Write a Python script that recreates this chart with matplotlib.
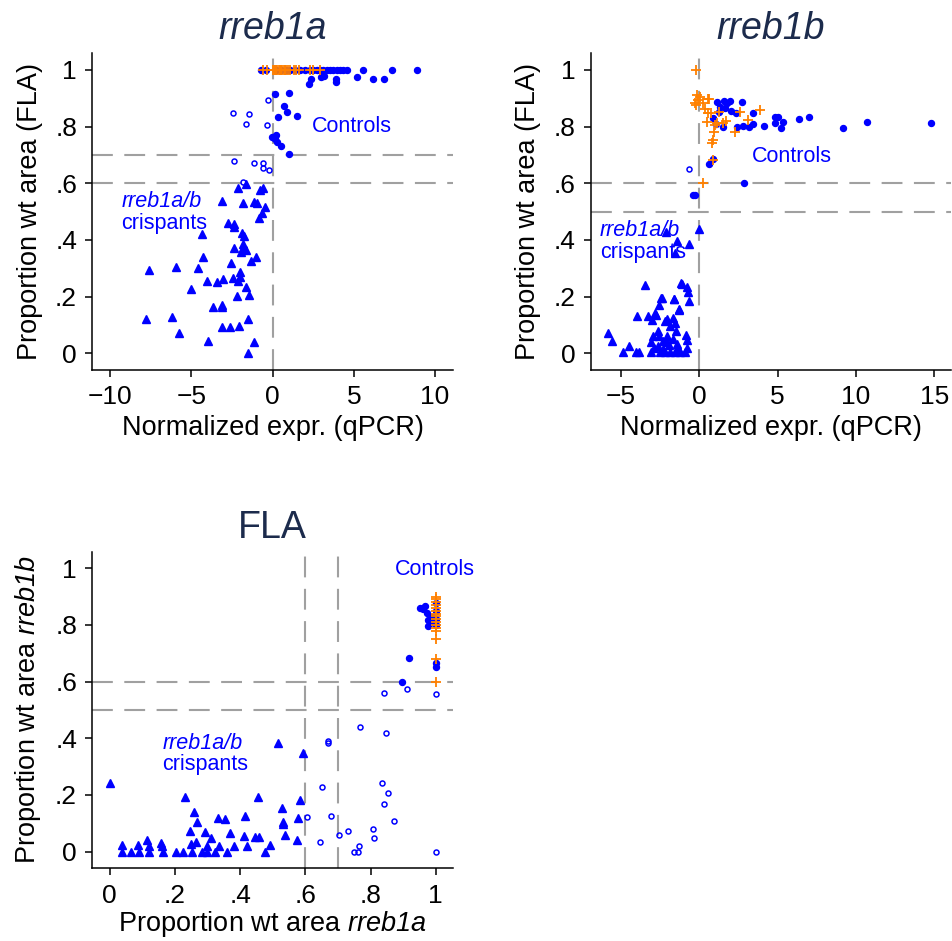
import matplotlib
matplotlib.use("Agg")
import matplotlib.pyplot as plt

plt.rcParams['font.family'] = ['Liberation Sans', 'DejaVu Sans']
# gene names inside $...$ come out fully italic (digits included)
plt.rcParams['mathtext.fontset'] = 'custom'
plt.rcParams['mathtext.rm'] = 'Liberation Sans:italic'
plt.rcParams['mathtext.it'] = 'Liberation Sans:italic'

# ---- data ----
# panel 1: rreb1a qPCR vs FLA
a_ctrl_x = [8.89, 7.33, 5.59, 4.56, 4.36, 4.15, 3.95, 3.75, 3.54, 3.33, 3.13, 2.92, 2.72, 2.5,
            2.31, 2.0, 1.7, 1.4, 1.1, 0.8, 0.5, 0.2, -0.4, -0.7,
            6.86, 6.2, 5.22, 3.89, 3.89, 2.98, 3.17, 2.35, 2.27, 0.15, 1.02, 0.73, 0.87,
            1.49, 0.32, -0.01, 0.2, 0.13, 0.26, 0.5, 1.02]
a_ctrl_y = [1.0] * 24 + [0.968, 0.968, 0.976, 0.968, 0.959, 0.976, 0.98, 0.968, 0.949, 0.914,
                         0.918, 0.874, 0.852, 0.839, 0.834, 0.765, 0.77, 0.755, 0.747, 0.732, 0.703]
a_mid_x = [-0.26, -2.45, -1.45, -1.65, -0.32, -2.37, -1.16, -0.56, -0.58, -0.22, -1.8]
a_mid_y = [0.894, 0.849, 0.843, 0.81, 0.805, 0.679, 0.672, 0.672, 0.653, 0.646, 0.605]
a_crisp_x = [-2.1, -1.65, -0.6, -0.76, -3.09, -1.8, -1.14, -0.94, -0.46, -0.63, -0.83, -2.76,
             -2.35, -2.4, -4.32, -1.9, -1.75, -1.79, -2.37, -1.8, -1.93, -1.65, -4.28, -1.03,
             -1.34, -2.55, -7.58, -5.96, -4.58, -2.0, -2.45, -1.99, -2.1, -3.06, -3.4, -4.05,
             -1.65, -5.02, -2.17, -1.43, -3.64, -3.11, -3.09, -7.8, -6.18, -5.73, -3.09, -2.62,
             -2.04, -1.53, -3.99, -1.14, -1.53]
a_crisp_y = [0.582, 0.596, 0.585, 0.577, 0.539, 0.532, 0.535, 0.529, 0.518, 0.494, 0.479, 0.459,
             0.456, 0.447, 0.42, 0.423, 0.415, 0.386, 0.373, 0.37, 0.359, 0.365, 0.339, 0.339,
             0.326, 0.32, 0.294, 0.304, 0.3, 0.288, 0.267, 0.27, 0.256, 0.261, 0.25, 0.256,
             0.235, 0.228, 0.203, 0.205, 0.162, 0.17, 0.165, 0.122, 0.129, 0.071, 0.092, 0.092,
             0.097, 0.12, 0.045, 0.041, 0.002]
a_uninj_x = [-0.6, -0.35, 0.0, 0.08, 0.15, 0.22, 0.3, 0.38, 0.45, 0.52, 0.6, 0.68, 0.75, 0.85,
             0.95, 1.05, 1.3, 1.45, 1.6, 2.3, 2.5, 2.95]
a_uninj_y = [1.0] * 22

# panel 2: rreb1b qPCR vs FLA
b_ctrl_x = [14.79, 10.7, 9.14, 7.02, 6.36, 5.35, 5.21, 5.0, 4.8, 4.83, 4.14, 3.4, 3.42, 3.15,
            2.8, 2.7, 2.39, 2.35, 1.93, 1.6, 1.75, 1.53, 1.62, 1.11, 1.28, 1.32, 0.9, 0.6, 0.9,
            -0.3, -0.38, 2.87, 1.05, 2.05]
b_ctrl_y = [0.812, 0.818, 0.795, 0.835, 0.827, 0.816, 0.794, 0.835, 0.835, 0.814, 0.803, 0.847,
            0.808, 0.8, 0.804, 0.886, 0.8, 0.848, 0.89, 0.891, 0.882, 0.8, 0.865, 0.886, 0.853,
            0.868, 0.83, 0.667, 0.686, 0.559, 0.557, 0.6, 0.81, 0.855]
b_mid_x = [-0.68]
b_mid_y = [0.652]
b_crisp_x = [0.0, -2.13, -1.45, -0.64, -1.55, -3.47, -1.17, -0.77, -0.71, -0.64, -2.46, -1.61,
             -2.57, -1.3, -4.0, -3.29, -2.83, -3.04, -2.19, -2.04, -1.7, -1.55, -1.87, -1.5,
             -2.65, -2.97, -2.08, -2.3, -0.85, -0.81, -3.1, -5.81, -5.59, -4.49, -4.85, -4.04,
             -3.83, -3.1, -2.51, -2.19, -1.87, -1.55, -1.23, -0.91, -2.62, -2.04, -1.45, -2.77,
             -1.28, -1.13, -2.4, -1.6, -2.9, -2.3, -1.9, -1.7, -1.35, -2.6, -0.8]
b_crisp_y = [0.439, 0.429, 0.398, 0.386, 0.353, 0.241, 0.247, 0.233, 0.215, 0.186, 0.194, 0.192,
             0.171, 0.155, 0.13, 0.13, 0.141, 0.118, 0.114, 0.122, 0.125, 0.108, 0.096, 0.077,
             0.079, 0.061, 0.061, 0.043, 0.065, 0.047, 0.039, 0.071, 0.045, 0.024, 0.006, 0.006,
             0.006, 0.006, 0.006, 0.006, 0.006, 0.006, 0.006, 0.006, 0.024, 0.039, 0.033, 0.135,
             0.153, 0.245, 0.194, 0.19, 0.02, 0.015, 0.03, 0.05, 0.02, 0.06, 0.02]
b_uninj_x = [-0.21, -0.17, -0.06, -0.27, 0.26, 0.57, 0.36, 0.57, 0.47, 1.0, 0.96, 0.89, 1.7,
             1.53, 1.28, 2.28, 3.13, 2.6, 3.87, 0.86, 0.26, 0.04, -0.21, 0.64, 0.72, 1.1, 0.83]
b_uninj_y = [1.0, 0.912, 0.894, 0.882, 0.882, 0.897, 0.861, 0.849, 0.818, 0.806, 0.782, 0.753,
             0.821, 0.814, 0.853, 0.782, 0.825, 0.853, 0.859, 0.682, 0.6, 0.904, 0.876, 0.896,
             0.847, 0.814, 0.744]

# panel 3: FLA rreb1a vs FLA rreb1b
f_ctrl_x = [0.95, 0.967, 0.96, 0.972, 0.977, 0.975, 0.983, 0.988, 1.0, 1.0, 1.0, 0.919, 0.896,
            1.0, 1.0, 1.0]
f_ctrl_y = [0.861, 0.867, 0.855, 0.841, 0.818, 0.796, 0.806, 0.829, 0.876, 0.653, 0.665, 0.685,
            0.6, 0.85, 0.82, 0.8]
f_mid_x = [1.0, 0.913, 0.842, 0.768, 0.847, 0.67, 0.67, 0.65, 0.834, 0.852, 0.84, 0.873, 0.606,
           0.679, 0.645, 0.703, 0.732, 0.807, 0.811, 0.763, 0.749, 0.76, 1.0]
f_mid_y = [0.556, 0.574, 0.559, 0.438, 0.42, 0.39, 0.382, 0.227, 0.241, 0.208, 0.167, 0.108,
           0.121, 0.124, 0.033, 0.059, 0.071, 0.08, 0.047, 0.02, 0.0, 0.0, 0.0]
f_crisp_x = [0.0, 0.038, 0.039, 0.066, 0.087, 0.09, 0.115, 0.121, 0.121, 0.157, 0.164, 0.202,
             0.225, 0.232, 0.246, 0.249, 0.254, 0.258, 0.269, 0.264, 0.291, 0.283, 0.31, 0.3,
             0.322, 0.332, 0.353, 0.336, 0.361, 0.368, 0.382, 0.415, 0.413, 0.422, 0.447, 0.455,
             0.457, 0.476, 0.491, 0.515, 0.527, 0.53, 0.533, 0.537, 0.573, 0.578, 0.583, 0.593,
             0.16, 0.3]
f_crisp_y = [0.241, 0.024, 0.0, 0.0, 0.022, 0.0, 0.041, 0.02, 0.0, 0.029, 0.0, 0.0, 0.0, 0.192,
             0.071, 0.027, 0.0, 0.141, 0.104, 0.035, 0.069, 0.0, 0.047, 0.02, 0.0, 0.117, 0.114,
             0.02, 0.0, 0.065, 0.02, 0.127, 0.056, 0.018, 0.053, 0.194, 0.053, 0.0, 0.024, 0.382,
             0.153, 0.104, 0.096, 0.059, 0.041, 0.118, 0.182, 0.349, 0.02, 0.0]
f_uninj_x = [1.0] * 16
f_uninj_y = [0.6, 0.68, 0.75, 0.78, 0.79, 0.8, 0.81, 0.82, 0.83, 0.84, 0.85, 0.86, 0.87, 0.88,
             0.89, 0.9]

prop_ticks = [0, 0.2, 0.4, 0.6, 0.8, 1]
prop_labels = ['0', '.2', '.4', '.6', '.8', '1']
a_xticks = [-10, -5, 0, 5, 10]
b_xticks = [-5, 0, 5, 10, 15]

BLUE = '#0000ff'
ORANGE = '#ff8000'
GRAY = '#a0a0a0'
NAVY = '#1c2b4c'


def draw_panel(ax, ctrl, mid, crisp, uninj, hlines, vlines):
    # reference cut-offs go underneath the points
    for h in hlines:
        ax.axhline(h, color=GRAY, lw=1.5, ls=(0, (10, 5.5)), zorder=1)
    for v in vlines:
        ax.axvline(v, color=GRAY, lw=1.5, ls=(0, (10, 5.5)), zorder=1)

    ax.plot(*ctrl, 'o', ms=4.3, color=BLUE, mec=BLUE, ls='none', zorder=3)
    ax.plot(*mid, 'o', ms=3.6, mfc='none', mec=BLUE, mew=1.1, ls='none', zorder=3)
    ax.plot(*crisp, '^', ms=6, color=BLUE, ls='none', zorder=3)
    ax.plot(*uninj, '+', ms=7, color=ORANGE, mew=1.3, ls='none', zorder=4)

    ax.set_ylim(-0.059, 1.059)
    ax.set_yticks(prop_ticks)
    ax.set_yticklabels(prop_labels)
    for side in ['top', 'right']:
        ax.spines[side].set_visible(False)
    for side in ['left', 'bottom']:
        ax.spines[side].set_linewidth(1.1)
    ax.tick_params(direction='out', length=5, width=1.1, labelsize=19, pad=6)


fig = plt.figure(figsize=(9.53, 9.41), dpi=100)
ax1 = fig.add_axes([0.0969, 0.6068, 0.3782, 0.3366])
ax2 = fig.add_axes([0.6201, 0.6068, 0.3778, 0.3366])
ax3 = fig.add_axes([0.0969, 0.0773, 0.3782, 0.3365])

# rreb1a
draw_panel(ax1, (a_ctrl_x, a_ctrl_y), (a_mid_x, a_mid_y), (a_crisp_x, a_crisp_y),
           (a_uninj_x, a_uninj_y), [0.6, 0.7], [0])
ax1.set_xlim(-11.09, 11.09)
ax1.set_xticks(a_xticks)
ax1.set_title('rreb1a', fontsize=27, style='italic', color=NAVY, pad=10)
ax1.set_xlabel('Normalized expr. (qPCR)', fontsize=19.5, labelpad=4)
ax1.set_ylabel('Proportion wt area (FLA)', fontsize=19.5, labelpad=9)
ax1.text(2.4, 0.80, 'Controls', color=BLUE, fontsize=15.5, va='center')
ax1.text(-9.3, 0.535, 'rreb1a/b', color=BLUE, fontsize=15.5, style='italic', va='center')
ax1.text(-9.3, 0.459, 'crispants', color=BLUE, fontsize=15.5, va='center')

# rreb1b
draw_panel(ax2, (b_ctrl_x, b_ctrl_y), (b_mid_x, b_mid_y), (b_crisp_x, b_crisp_y),
           (b_uninj_x, b_uninj_y), [0.5, 0.6], [0])
ax2.set_xlim(-6.91, 16.06)
ax2.set_xticks(b_xticks)
ax2.set_title('rreb1b', fontsize=27, style='italic', color=NAVY, pad=10)
ax2.set_xlabel('Normalized expr. (qPCR)', fontsize=19.5, labelpad=4)
ax2.set_ylabel('Proportion wt area (FLA)', fontsize=19.5, labelpad=9)
ax2.text(3.34, 0.696, 'Controls', color=BLUE, fontsize=15.5, va='center')
ax2.text(-6.34, 0.432, 'rreb1a/b', color=BLUE, fontsize=15.5, style='italic', va='center')
ax2.text(-6.34, 0.355, 'crispants', color=BLUE, fontsize=15.5, va='center')

# FLA vs FLA
draw_panel(ax3, (f_ctrl_x, f_ctrl_y), (f_mid_x, f_mid_y), (f_crisp_x, f_crisp_y),
           (f_uninj_x, f_uninj_y), [0.5, 0.6], [0.6, 0.7])
ax3.set_xlim(-0.053, 1.052)
ax3.set_xticks(prop_ticks)
ax3.set_xticklabels(prop_labels)
ax3.set_title('FLA', fontsize=27, color=NAVY, pad=10)
ax3.set_xlabel('Proportion wt area $rreb1a$', fontsize=19.5, labelpad=1)
ax3.set_ylabel('Proportion wt area $rreb1b$', fontsize=19.5, labelpad=9)
ax3.text(0.873, 0.997, 'Controls', color=BLUE, fontsize=15.5, va='center')
ax3.text(0.161, 0.382, 'rreb1a/b', color=BLUE, fontsize=15.5, style='italic', va='center')
ax3.text(0.161, 0.306, 'crispants', color=BLUE, fontsize=15.5, va='center')

fig.savefig('out.png', dpi=100)
